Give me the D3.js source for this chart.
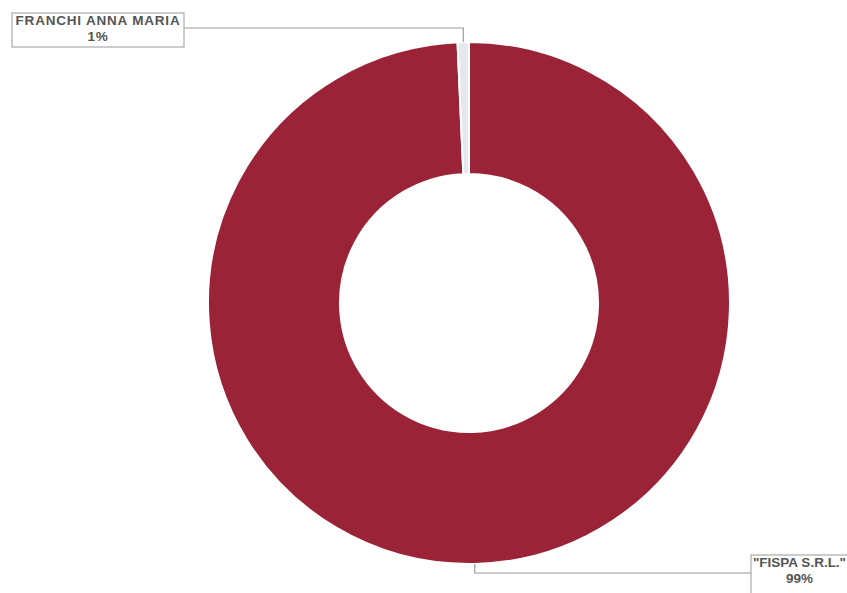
<!DOCTYPE html>
<html>
<head>
<meta charset="utf-8">
<script src="https://cdn.jsdelivr.net/npm/d3@7"></script>
<style>
  body { margin: 0; background: #fff; }
  svg { display: block; }
  .lbl { font-family: "Liberation Sans", Arial, sans-serif; font-size: 13.5px; font-weight: bold; fill: #555; }
</style>
</head>
<body>
<div id="chart"></div>
<script>
// shareholders and their share of capital (%)
const names = ["\"FISPA S.R.L.\"", "FRANCHI ANNA MARIA"];
const shares = [99.3, 0.7];
const colors = ["#9b2338", "#e4e8ec"];

const width = 847;
const height = 593;
const cx = 469, cy = 303;
const outerR = 261, innerR = 129;

const svg = d3.select("#chart")
    .append("svg")
    .attr("width", width)
    .attr("height", height);

const data = names.map((n, i) => ({ name: n, value: shares[i], color: colors[i] }));
const total = d3.sum(shares);
const pct = d3.format(".0%");

const pie = d3.pie().sort(null).value(d => d.value);
const arc = d3.arc().innerRadius(innerR).outerRadius(outerR);
const arcs = pie(data);

const g = svg.append("g").attr("transform", `translate(${cx}, ${cy})`);

g.selectAll("path")
    .data(arcs)
    .enter()
    .append("path")
    .attr("d", arc)
    .attr("fill", d => d.data.color)
    .attr("stroke", "#fff")
    .attr("stroke-width", 2);

// label boxes, placed like the original callouts
const boxes = [
    { x: 751, y: 555, w: 97, h: 40, side: "bottom", sp: 0 },
    { x: 12, y: 13, w: 172, h: 34, side: "top", sp: 0.8 }
];

arcs.forEach((d, i) => {
    const b = boxes[i];
    const mid = (d.startAngle + d.endAngle) / 2;
    const px = cx + Math.sin(mid) * outerR;
    const py = cy - Math.cos(mid) * outerR;
    const ly = b.side === "top" ? b.y + 15 : b.y + 18;
    const bx = b.side === "top" ? b.x + b.w : b.x;

    svg.append("polyline")
        .attr("points", `${px},${py} ${px},${ly} ${bx},${ly}`)
        .attr("fill", "none")
        .attr("stroke", "#999")
        .attr("stroke-width", 1.2);

    svg.append("rect")
        .attr("x", b.x)
        .attr("y", b.y)
        .attr("width", b.w)
        .attr("height", b.h)
        .attr("fill", "#fff")
        .attr("stroke", "#aaa")
        .attr("stroke-width", 1.2);

    const t = svg.append("text")
        .attr("class", "lbl")
        .attr("text-anchor", "middle")
        .attr("letter-spacing", b.sp)
        .attr("x", b.x + b.w / 2)
        .attr("y", b.y + 12);
    t.append("tspan").text(d.data.name);
    t.append("tspan")
        .attr("x", b.x + b.w / 2)
        .attr("dy", 16)
        .text(pct(d.data.value / total));
});
</script>
</body>
</html>
